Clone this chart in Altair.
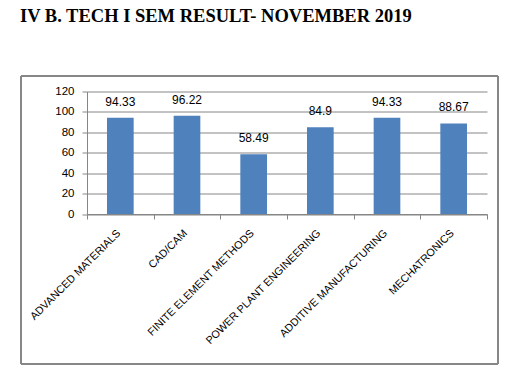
import altair as alt
import pandas as pd

subjects = ["ADVANCED MATERIALS", "CAD/CAM", "FINITE ELEMENT  METHODS",
            "POWER PLANT ENGINEERING", "ADDITIVE MANUFACTURING", "MECHATRONICS"]
results = [94.33, 96.22, 58.49, 84.9, 94.33, 88.67]
y_ticks = [0, 20, 40, 60, 80, 100, 120]

df = pd.DataFrame({"subject": subjects, "result": results})

GRAY = "#868686"
BLUE = "#4F81BD"
FONT = "Liberation Sans"

x_enc = alt.X("subject:N", sort=subjects, title=None,
              scale=alt.Scale(paddingInner=0, paddingOuter=0),
              axis=alt.Axis(labelAngle=-45, labelFont=FONT, labelFontSize=10.8,
                            labelColor="#000000", labelPadding=8, labelOffset=-6,
                            labelLimit=300,
                            domainColor=GRAY, tickColor=GRAY, tickSize=5,
                            tickBand="extent", grid=False, labelOverlap=False))
y_enc = alt.Y("result:Q", title=None,
              scale=alt.Scale(domain=[0, 120], nice=False),
              axis=alt.Axis(values=y_ticks, tickCount=7, labelFont=FONT, labelFontSize=11.5,
                            labelColor="#000000", labelPadding=8, labelOverlap=False,
                            domainColor=GRAY, tickColor=GRAY, tickSize=5,
                            gridColor=GRAY, grid=True))

bars = alt.Chart(df).mark_bar(color=BLUE, width=alt.RelativeBandSize(0.4)).encode(x=x_enc, y=y_enc)

labels = alt.Chart(df).mark_text(baseline="bottom", dy=-9, font=FONT, fontSize=12,
                                 color="#000000").encode(
    x=x_enc,
    y=y_enc,
    text=alt.Text("result:Q", format="~g"))

border = alt.Chart(df).mark_rect(fill=None, stroke=GRAY, strokeWidth=1, clip=False).encode(
    x=alt.value(-66), x2=alt.value(411), y=alt.value(-15.5), y2=alt.value(272.5))

chart = alt.layer(border, bars, labels).properties(
    width=400, height=122.5,
    title=alt.Title("IV B. TECH I SEM RESULT- NOVEMBER 2019", anchor="start", frame="group",
                    font="Liberation Serif", fontSize=18.5, fontWeight="bold",
                    color="#000000", dx=-67, offset=50),
    autosize=alt.AutoSizeParams(type="none"),
    padding={"left": 79, "top": 83.5, "right": 32, "bottom": 160},
).configure_view(stroke=None).configure_axis(domainWidth=1, tickWidth=1, gridWidth=1)

chart.save("out.html", embed_options={"renderer": "svg", "actions": False})
